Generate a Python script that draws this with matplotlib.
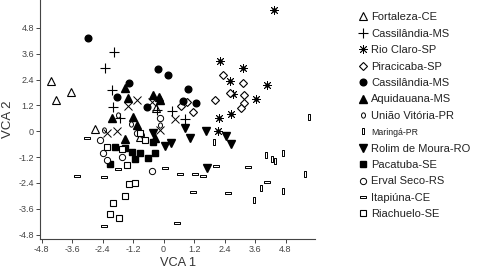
import matplotlib
matplotlib.use("Agg")
import matplotlib.pyplot as plt
import numpy as np
from matplotlib.path import Path

plt.rcParams['font.family'] = ['Liberation Sans', 'DejaVu Sans']
plt.rcParams['axes.unicode_minus'] = False

# group scores (VCA 1, VCA 2)
fortaleza_x = [-4.43, -4.23, -3.64, -2.70, -0.93, -0.30]
fortaleza_y = [2.34, 1.46, 1.83, 0.12, -0.25, 1.10]
cass_plus_x = [-1.95, -2.30, -2.03, -1.99, -0.26, 0.33, 0.85, -1.71]
cass_plus_y = [3.68, 2.94, 1.92, 1.13, 1.00, 0.95, 0.58, 0.63]
rioclaro_x = [4.35, 2.22, 3.13, 2.62, 4.07, 2.74, 3.64, 2.66, 2.19, 2.15]
rioclaro_y = [5.63, 3.26, 2.94, 2.34, 2.15, 1.74, 1.50, 0.81, 0.63, 0.02]
piracicaba_x = [2.34, 3.13, 3.17, 2.62, 3.17, 3.05, 2.03, 1.16, 0.93, 0.69]
piracicaba_y = [2.62, 2.25, 1.69, 1.78, 1.32, 1.09, 1.46, 0.90, 1.37, 1.18]
cass_dot_x = [-2.97, -1.36, -1.83, -0.22, -0.65, 0.18, 0.96, 0.77, 1.28]
cass_dot_y = [4.33, 2.25, 1.60, 2.89, 1.13, 2.62, 1.97, 1.41, 1.32]
aquidauana_x = [-1.52, -1.40, -2.03, -1.20, -1.04, -0.41, -0.18, -1.52, -0.33, -0.14]
aquidauana_y = [2.01, 1.55, 0.63, 0.67, 0.30, 1.69, 1.60, -0.35, -0.30, 1.46]
uniao_x = [-1.79, -0.85, -0.14, -2.34, -1.30]
uniao_y = [0.76, -0.16, 0.30, 0.07, 0.35]
maringa_x = [1.99, 4.04, 4.27, 4.39, 4.70, 5.57, 3.84, 3.56, 4.70, 5.73]
maringa_y = [-0.49, -1.09, -1.27, -1.37, -1.00, -1.97, -2.62, -3.17, -2.75, 0.67]
rolim_x = [0.85, 1.04, 1.67, 2.46, 2.66, 0.06, 0.30, 1.71, -0.41]
rolim_y = [0.16, -0.30, 0.02, -0.21, -0.58, -0.67, -0.53, -1.69, -0.07]
pacatuba_x = [-1.91, -2.11, -1.52, -1.24, -1.12, -0.93, -0.61, -0.33, -0.41]
pacatuba_y = [-0.72, -1.50, -0.76, -0.95, -1.27, -1.00, -1.23, -1.00, -0.49]
erval_x = [-2.38, -2.22, -1.63, -0.45, -2.50, -1.04, -0.14]
erval_y = [-1.00, -1.32, -1.18, -1.83, -0.39, -0.07, 0.63]
itapiuna_x = [-3.01, -3.41, -2.34, -1.79, -2.34, 0.06, 0.65, 1.24, 1.56, 2.07, 1.16, 2.54, 3.33, 4.07, 0.53]
itapiuna_y = [-0.30, -2.06, -2.11, -1.74, -4.42, -1.69, -1.97, -1.97, -2.06, -1.60, -2.80, -2.85, -1.64, -2.34, -4.24]
riachuelo_x = [-2.22, -1.63, -1.44, -1.36, -1.12, -1.52, -1.99, -2.11, -1.75, -0.93, -0.73]
riachuelo_y = [-0.72, -0.81, -1.55, -2.43, -2.38, -2.99, -3.31, -3.82, -4.05, -0.07, -0.39]
cross_x = [-2.22, -1.83, -1.40, -1.04, -0.45, 0.45, -0.14]
cross_y = [-0.07, 0.02, 1.18, 1.46, 1.37, 0.58, 0.07]

ticks = [-4.8, -3.6, -2.4, -1.2, 0, 1.2, 2.4, 3.6, 4.8]
tick_labels = ['-4.8', '-3.6', '-2.4', '-1.2', '0', '1.2', '2.4', '3.6', '4.8']

# small custom shapes
vrect = Path([(-0.35, -1), (0.35, -1), (0.35, 1), (-0.35, 1), (-0.35, -1)],
             [Path.MOVETO, Path.LINETO, Path.LINETO, Path.LINETO, Path.CLOSEPOLY])
hrect = Path([(-1, -0.38), (1, -0.38), (1, 0.38), (-1, 0.38), (-1, -0.38)],
             [Path.MOVETO, Path.LINETO, Path.LINETO, Path.LINETO, Path.CLOSEPOLY])
t = np.linspace(0, 2 * np.pi, 40)
vell = Path(np.column_stack([0.75 * np.cos(t), np.sin(t)]))

fig = plt.figure(figsize=(4.78, 2.70), dpi=100)
ax = fig.add_axes([0.084, 0.115, 0.575, 0.885])

k = dict(color='black', linestyle='none')
ax.plot(fortaleza_x, fortaleza_y, marker='^', ms=5.5, mfc='white', mew=0.8, label='Fortaleza-CE', **k)
ax.plot(cass_plus_x, cass_plus_y, marker='+', ms=7, mew=0.8, label='Cassilândia-MS', **k)
ax.plot(rioclaro_x, rioclaro_y, marker=(8, 2, 0), ms=6.3, mew=0.6, label='Rio Claro-SP', **k)
ax.plot(rioclaro_x, rioclaro_y, marker='o', ms=2.2, **k)
ax.plot(piracicaba_x, piracicaba_y, marker='D', ms=4.3, mfc='white', mew=0.8, label='Piracicaba-SP', **k)
ax.plot(cass_dot_x, cass_dot_y, marker='o', ms=4.8, label='Cassilândia-MS', **k)
ax.plot(aquidauana_x, aquidauana_y, marker='^', ms=5.5, label='Aquidauana-MS', **k)
ax.plot(uniao_x, uniao_y, marker=vell, ms=3.8, mfc='white', mew=0.7, label='União Vitória-PR', **k)
ax.plot(maringa_x, maringa_y, marker=vrect, ms=5, mfc='white', mew=0.7, label='Maringá-PR', **k)
ax.plot(rolim_x, rolim_y, marker='v', ms=5.5, label='Rolim de Moura-RO', **k)
ax.plot(pacatuba_x, pacatuba_y, marker='s', ms=4.8, label='Pacatuba-SE', **k)
ax.plot(erval_x, erval_y, marker='o', ms=4.5, mfc='white', mew=0.7, label='Erval Seco-RS', **k)
ax.plot(itapiuna_x, itapiuna_y, marker=hrect, ms=5, mfc='white', mew=0.7, label='Itapiúna-CE', **k)
ax.plot(riachuelo_x, riachuelo_y, marker='s', ms=5, mfc='white', mew=0.8, label='Riachuelo-SE', **k)
ax.plot(cross_x, cross_y, marker='x', ms=6, mew=0.7, **k)

ax.set_xlim(-4.86, 5.96)
ax.set_ylim(-5.0, 6.1)
ax.set_xticks(ticks)
ax.set_xticklabels(tick_labels)
ax.set_yticks(ticks)
ax.set_yticklabels(tick_labels)
for s in ['top', 'right']:
    ax.spines[s].set_visible(False)
for s in ['left', 'bottom']:
    ax.spines[s].set_color('#444444')
    ax.spines[s].set_linewidth(0.8)
ax.tick_params(labelsize=6.5, colors='#444444', length=3, width=0.7, pad=1.5)
ax.set_xlabel('VCA 1', fontsize=9.2, color='#333333', labelpad=2)
ax.set_ylabel('VCA 2', fontsize=9.5, color='#333333', labelpad=3)

leg = fig.legend(*ax.get_legend_handles_labels(), loc='upper left', bbox_to_anchor=(0.725, 1.0),
                 frameon=False, fontsize=8, handlelength=0.8, handletextpad=0.3,
                 labelspacing=0.58, borderpad=0.6)
for txt in leg.get_texts():
    txt.set_color('#222222')
leg.get_texts()[7].set_fontsize(6.3)

fig.savefig('out.png', dpi=100)
